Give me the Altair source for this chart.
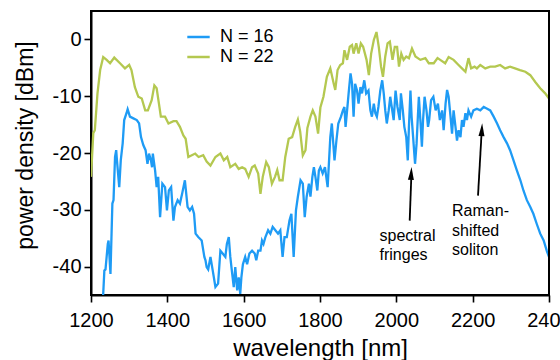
import altair as alt
import pandas as pd

# ---- data ----
series = ["N = 16", "N = 22"]
colors = ["#1e9bf5", "#b4c850"]

x16 = [1228, 1232, 1235, 1238, 1244, 1246, 1251, 1256, 1259, 1263, 1266, 1268, 1274, 1278, 1283, 1287,
       1293, 1296, 1302, 1311, 1320, 1326, 1331, 1337, 1343, 1348, 1352, 1357, 1360, 1362, 1368, 1372,
       1376, 1381, 1387, 1394, 1399, 1404, 1410, 1416, 1420, 1427, 1433, 1439, 1446, 1453, 1459, 1465,
       1470, 1474, 1481, 1490, 1497, 1500, 1503, 1507, 1513, 1519, 1526, 1533, 1539, 1545, 1552, 1556,
       1561, 1565, 1569, 1574, 1578, 1583, 1587, 1591, 1594, 1598, 1604, 1609, 1615, 1622, 1629, 1633,
       1638, 1644, 1648, 1652, 1657, 1664, 1670, 1676, 1683, 1690, 1696, 1702, 1707, 1713, 1720, 1725,
       1731, 1737, 1742, 1749, 1755, 1760, 1765, 1771, 1775, 1780, 1784, 1788, 1793, 1797, 1801, 1807,
       1813, 1820, 1827, 1831, 1838, 1843, 1848, 1855, 1860, 1864, 1867, 1871, 1875, 1880, 1884, 1888,
       1892, 1897, 1901, 1906, 1910, 1916, 1921, 1927, 1932, 1936, 1941, 1945, 1949, 1953, 1958, 1963,
       1967, 1971, 1975, 1980, 1984, 1988, 1993, 1998, 2003, 2009, 2012, 2017, 2021, 2026, 2030, 2033,
       2037, 2040, 2044, 2049, 2053, 2056, 2059, 2063, 2067, 2070, 2074, 2079, 2083, 2086, 2091, 2097,
       2103, 2109, 2114, 2120, 2124, 2129, 2133, 2137, 2142, 2146, 2150, 2155, 2159, 2163, 2168, 2172,
       2176, 2181, 2185, 2189, 2196, 2202, 2211, 2220, 2229, 2238, 2246, 2255, 2264, 2272, 2281, 2290,
       2298, 2307, 2316, 2325, 2333, 2342, 2351, 2359, 2368, 2377, 2386, 2394, 2400]
y16 = [-48.0, -44.8, -40.7, -40.5, -36.0, -35.4, -41.3, -28.9, -28.3, -20.7, -19.5, -21.3, -26.0, -21.3, -18.3, -14.2,
       -13.0, -12.3, -13.6, -13.9, -14.2, -14.8, -17.2, -18.6, -19.5, -21.9, -20.1, -21.3, -22.5, -20.1, -23.1, -26.0,
       -24.2, -31.3, -25.4, -26.0, -30.1, -26.6, -26.0, -31.9, -29.5, -28.3, -28.9, -27.1, -24.8, -29.5, -30.1, -29.5,
       -30.7, -34.2, -34.8, -35.4, -38.3, -38.9, -40.1, -40.5, -38.3, -40.7, -43.6, -43.0, -37.2, -37.7, -38.3, -36.0,
       -34.8, -38.3, -40.7, -43.6, -40.1, -44.2, -41.9, -44.8, -41.9, -39.6, -38.3, -39.6, -37.7, -37.2, -37.7, -38.9,
       -37.2, -37.2, -35.4, -36.0, -34.8, -33.6, -34.2, -33.0, -33.6, -34.2, -33.6, -38.3, -34.8, -34.8, -31.9, -30.7,
       -38.3, -30.1, -27.7, -24.8, -25.4, -31.3, -27.7, -25.4, -27.7, -24.2, -22.5, -24.2, -26.6, -23.1, -22.5, -23.6,
       -22.5, -26.0, -17.2, -14.8, -21.3, -17.8, -14.8, -13.6, -12.5, -11.9, -15.4, -12.5, -9.5, -6.0, -7.8, -13.6,
       -7.8, -9.0, -11.3, -8.4, -9.5, -7.2, -9.5, -9.0, -12.5, -13.6, -11.3, -13.0, -13.6, -11.9, -9.0, -7.2,
       -9.5, -12.5, -14.8, -12.5, -10.1, -11.9, -14.2, -9.0, -11.9, -14.2, -9.5, -12.5, -15.4, -17.2, -21.3, -15.4,
       -9.0, -13.6, -17.2, -21.9, -18.4, -14.2, -10.1, -14.2, -18.9, -14.2, -10.1, -12.5, -15.4, -14.2, -10.7, -10.1,
       -12.5, -11.3, -14.2, -12.5, -16.0, -11.3, -8.9, -10.1, -13.6, -16.6, -12.5, -15.4, -17.8, -16.0, -17.2, -14.2,
       -15.4, -13.0, -14.2, -12.5, -13.6, -12.5, -12.2, -12.5, -11.9, -12.2, -12.5, -13.6, -14.8, -16.0, -17.2, -18.3,
       -19.5, -21.3, -23.1, -24.8, -26.6, -28.3, -29.5, -30.7, -32.5, -34.2, -35.4, -37.2, -38.3]

x22 = [1200, 1206, 1210, 1217, 1224, 1232, 1241, 1250, 1261, 1276, 1289, 1300, 1306, 1315, 1324, 1333,
       1342, 1349, 1359, 1366, 1372, 1378, 1383, 1394, 1403, 1416, 1424, 1433, 1442, 1448, 1455, 1473,
       1482, 1494, 1503, 1513, 1526, 1539, 1548, 1557, 1565, 1578, 1587, 1596, 1604, 1613, 1622, 1629,
       1638, 1644, 1650, 1659, 1666, 1674, 1682, 1688, 1694, 1702, 1709, 1718, 1727, 1735, 1742, 1748,
       1755, 1762, 1767, 1775, 1781, 1788, 1795, 1801, 1809, 1818, 1827, 1836, 1840, 1846, 1853, 1860,
       1864, 1871, 1878, 1884, 1888, 1895, 1901, 1907, 1913, 1922, 1928, 1934, 1941, 1948, 1954, 1960,
       1965, 1971, 1977, 1983, 1990, 1996, 2002, 2007, 2013, 2019, 2026, 2033, 2041, 2050, 2063, 2076,
       2085, 2098, 2108, 2115, 2128, 2137, 2150, 2163, 2172, 2181, 2189, 2196, 2205, 2211, 2220, 2233,
       2246, 2259, 2272, 2285, 2298, 2311, 2324, 2338, 2351, 2364, 2377, 2390, 2400]
y22 = [-24.2, -16.5, -16.0, -9.5, -5.4, -3.1, -3.6, -4.2, -3.2, -4.2, -5.1, -4.5, -5.4, -8.4, -10.1, -10.4,
       -12.5, -12.5, -10.7, -8.1, -8.6, -11.3, -13.6, -13.6, -14.8, -14.4, -14.4, -15.4, -16.9, -17.5, -20.7, -20.1,
       -20.7, -20.4, -21.5, -22.2, -20.7, -20.1, -21.3, -20.7, -22.5, -21.9, -22.8, -22.5, -22.8, -24.2, -22.5, -22.2,
       -23.6, -27.2, -24.2, -21.6, -22.5, -25.4, -24.2, -23.0, -24.8, -24.8, -20.7, -17.5, -17.2, -15.4, -14.1, -16.2,
       -20.4, -19.5, -15.6, -13.6, -12.5, -13.6, -16.6, -12.0, -10.1, -6.6, -5.1, -7.8, -8.9, -5.4, -4.5, -4.2,
       -1.9, -3.6, -1.3, -1.0, -2.5, -0.7, -2.5, -0.7, -1.3, -3.6, -6.3, -2.5, -0.1, 1.3, -1.3, -4.8,
       -6.6, -3.0, -0.7, -0.4, -3.6, -1.3, -1.3, -4.8, -2.5, -3.6, -3.0, -3.3, -1.6, -3.0, -3.6, -3.3,
       -4.2, -4.2, -3.3, -3.6, -4.2, -3.1, -3.6, -4.5, -5.1, -5.7, -3.3, -5.1, -4.8, -5.1, -4.5, -5.1,
       -4.8, -4.8, -4.5, -5.1, -4.8, -5.1, -5.4, -5.7, -6.3, -7.5, -8.6, -9.5, -10.4]

x_range = [1200, 2400]
y_range = [-45, 5]
x_ticks = list(range(1200, 2401, 100))
y_ticks = list(range(-40, 1, 5))

# annotation texts (left aligned, alphabetic baseline)
note_text = ["spectral", "fringes", "Raman-", "shifted", "soliton"]
note_x = [1956, 1956, 2146, 2146, 2146]
note_y = [-35.5, -38.8, -31.1, -34.6, -38.0]

# arrows: tail -> head base, head point
arrow_x = [2035, 2214]
arrow_y = [-31.9, -27.5]
arrow_x2 = [2039, 2223]
arrow_y2 = [-24.6, -16.9]
head_x = [2039, 2224]
head_y = [-23.6, -15.9]

FONT = "Liberation Sans"

df = pd.concat([
    pd.DataFrame({"wavelength": x16, "power": y16, "series": series[0]}),
    pd.DataFrame({"wavelength": x22, "power": y22, "series": series[1]}),
], ignore_index=True)

notes = pd.DataFrame({"text": note_text, "x": note_x, "y": note_y})
arrows = pd.DataFrame({"x": arrow_x, "y": arrow_y, "x2": arrow_x2, "y2": arrow_y2})
heads = pd.DataFrame({"x": head_x, "y": head_y})
# frame path (top-left -> top-right -> bottom-right), at the domain limits
frame = pd.DataFrame({
    "fx": [x_range[0], x_range[1], x_range[1]],
    "fy": [y_range[1], y_range[1], y_range[0]],
    "k": [0, 1, 2],
})

xscale = alt.Scale(domain=x_range, nice=False, zero=False)
yscale = alt.Scale(domain=y_range, nice=False, zero=False)

xaxis = alt.Axis(
    values=x_ticks,
    labelExpr="datum.value % 200 == 0 ? '' + datum.value : ''",
    title="wavelength [nm]",
    titleFontSize=24, titleFont=FONT, titleFontWeight="normal", titleColor="black",
    titleX=229, titleY=60, titleBaseline="alphabetic", titleAnchor="middle",
    labelFontSize=20, labelFont=FONT, labelColor="black", labelPadding=8,
    labelOverlap=False, labelFlush=False,
    tickSize=7, tickWidth=1.6, tickColor="black",
    domainColor="black", domainWidth=2, grid=False,
)
yaxis = alt.Axis(
    values=y_ticks,
    labelExpr="datum.value % 10 == 0 ? '' + datum.value : ''",
    title="power density [dBm]",
    titleFontSize=23, titleFont=FONT, titleFontWeight="normal", titleColor="black",
    titleX=-59, titleY=134, titleBaseline="alphabetic", titleAngle=-90, titleAnchor="middle",
    labelFontSize=20, labelFont=FONT, labelColor="black", labelPadding=3,
    labelOverlap=False, labelFlush=False,
    tickSize=7, tickWidth=1.6, tickColor="black",
    domainColor="black", domainWidth=2, grid=False,
)

lines = alt.Chart(df).mark_line(strokeWidth=2.3, clip=True).encode(
    x=alt.X("wavelength:Q", scale=xscale, axis=xaxis),
    y=alt.Y("power:Q", scale=yscale, axis=yaxis),
    color=alt.Color(
        "series:N",
        scale=alt.Scale(domain=series, range=colors),
        legend=alt.Legend(
            title=None, orient="none", legendX=98, legendY=16.5,
            symbolType="M-1.4,0H1.4", symbolSize=256, symbolStrokeWidth=2.5,
            labelFontSize=18, labelFont=FONT, labelColor="black",
            labelOffset=12, rowPadding=1, padding=0,
        ),
    ),
)

frame_line = alt.Chart(frame).mark_line(color="black", strokeWidth=2, clip=False).encode(
    x="fx:Q", y="fy:Q", order="k:Q"
)

rules = alt.Chart(arrows).mark_rule(color="black", strokeWidth=1.8).encode(
    x="x:Q", y="y:Q", x2="x2:Q", y2="y2:Q"
)

arrow_heads = alt.Chart(heads).mark_point(
    shape="M0,-1L0.46,1L-0.46,1Z", filled=True, size=169, color="black", opacity=1, angle=3
).encode(x="x:Q", y="y:Q")

texts = alt.Chart(notes).mark_text(
    align="left", baseline="alphabetic", fontSize=16, font=FONT, color="black"
).encode(x="x:Q", y="y:Q", text="text:N")

chart = alt.layer(lines, frame_line, rules, arrow_heads, texts).properties(
    width=458, height=284,
    autosize=alt.AutoSizeParams(type="none"),
    padding={"left": 91, "top": 11, "right": 11, "bottom": 65},
    background="white",
).configure_view(stroke="black", strokeWidth=2)

chart.save("out.html", embed_options={"renderer": "svg", "actions": False})
